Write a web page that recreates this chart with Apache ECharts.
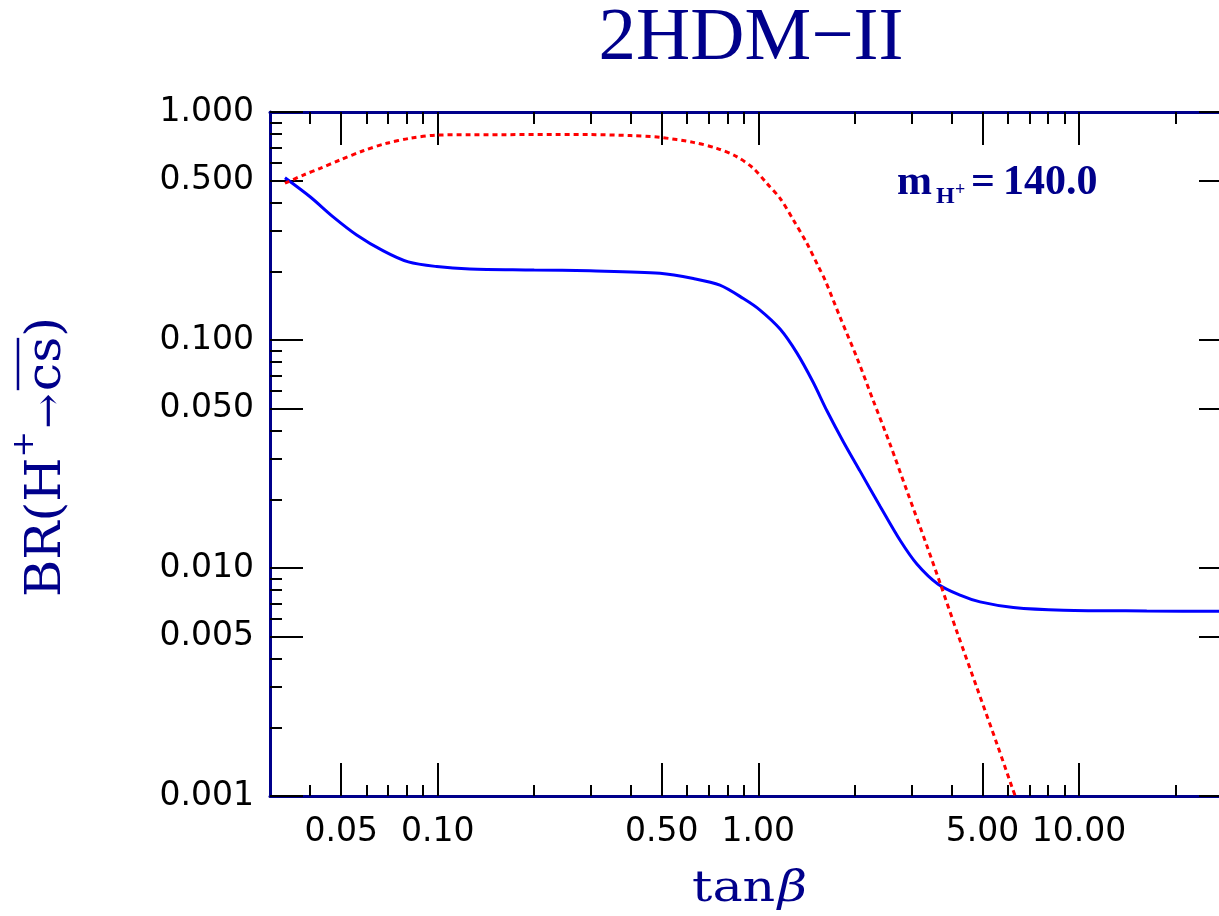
<!DOCTYPE html>
<html>
<head>
<meta charset="utf-8">
<title>2HDM-II BR(H+ -> c sbar)</title>
<script src="https://cdn.jsdelivr.net/npm/echarts@6/dist/echarts.min.js"></script>
<style>
  html, body { margin: 0; padding: 0; background: #ffffff; }
  #chart { width: 1219px; height: 916px; }
</style>
</head>
<body>
<div id="chart"></div>
<script>
// tan(beta) samples and branching ratios, solid blue curve
const tanBetaSolid = [0.0334, 0.0400, 0.0472, 0.0559, 0.0677, 0.0810, 0.0993, 0.126, 0.20, 0.2985,
  0.4935, 0.627, 0.759, 0.898, 1.012, 1.169, 1.320, 1.481, 1.638, 1.837,
  2.076, 2.397, 2.767, 3.126, 3.636, 4.257, 4.915, 6.243, 8.94, 16.27,
  27.35, 30];
const brSolid = [0.515, 0.425, 0.347, 0.289, 0.246, 0.220, 0.210, 0.205, 0.203, 0.201,
  0.196, 0.186, 0.174, 0.152, 0.1353, 0.1117, 0.0876, 0.0654, 0.0488, 0.0360,
  0.0266, 0.01867, 0.01324, 0.01039, 0.00849, 0.0076, 0.0071, 0.00671, 0.00653, 0.00648,
  0.00646, 0.00645];

// tan(beta) samples and branching ratios, dotted red curve
const tanBetaDotted = [0.0334, 0.0381, 0.0430, 0.0496, 0.0586, 0.0693, 0.0820, 0.0993, 0.126, 0.2985,
  0.40, 0.4935, 0.627, 0.742, 0.856, 0.965, 1.062, 1.169, 1.286, 1.416,
  1.539, 1.615, 1.798, 2.032, 2.279, 2.575, 2.910, 3.359, 3.688, 4.167,
  4.810, 5.553, 6.183, 6.324];
const brDotted = [0.487, 0.529, 0.566, 0.616, 0.676, 0.729, 0.767, 0.792, 0.795, 0.796,
  0.788, 0.774, 0.736, 0.693, 0.637, 0.566, 0.487, 0.418, 0.336, 0.266,
  0.210, 0.183, 0.126, 0.0833, 0.0545, 0.0349, 0.0217, 0.01246, 0.00858, 0.00523,
  0.00297, 0.001686, 0.001092, 0.001];

// axis ranges and tick marks
const xRange = [0.03, 30];
const yRange = [0.001, 1];
const xMajorTicks = [0.05, 0.1, 0.5, 1, 5, 10];
const xMinorTicks = [0.04, 0.06, 0.07, 0.08, 0.09, 0.2, 0.3, 0.4, 0.6, 0.7, 0.8, 0.9,
  2, 3, 4, 6, 7, 8, 9, 20];
const yMajorTicks = [0.001, 0.005, 0.01, 0.05, 0.1, 0.5, 1];
const yMinorTicks = [0.002, 0.003, 0.004, 0.006, 0.007, 0.008, 0.009,
  0.02, 0.03, 0.04, 0.06, 0.07, 0.08, 0.09,
  0.2, 0.3, 0.4, 0.6, 0.7, 0.8, 0.9];

const NAVY = '#00008b';
const TICK_STYLE = { color: '#000000', width: 2 };
const SERIF = 'DejaVu Serif';
const lg = Math.log10;

// Tick-only companion axes: same range as the log axis, expressed in decades
function tickAxis(position, range, values, len, labelDigits, labelMargin, showLine) {
  const ax = {
    type: 'value',
    gridIndex: 0,
    position: position,
    min: lg(range[0]),
    max: lg(range[1]),
    axisLine: showLine
      ? { show: true, onZero: false, lineStyle: { color: NAVY, width: 3 } }
      : { show: false, onZero: false },
    axisTick: { show: true, inside: true, length: len, customValues: values.map(lg), lineStyle: TICK_STYLE },
    axisLabel: { show: false },
    splitLine: { show: false },
    silent: true
  };
  if (labelDigits !== null) {
    ax.axisLabel = {
      show: true,
      customValues: values.map(lg),
      formatter: v => Math.pow(10, v).toFixed(labelDigits),
      color: '#000000',
      fontFamily: 'DejaVu Sans',
      fontSize: 33,
      margin: labelMargin
    };
  }
  return ax;
}

// Lays out a run of text pieces on one baseline, stretched to a target length
const measureCtx = document.createElement('canvas').getContext('2d');
function textWidth(str, size, style) {
  measureCtx.font = (style || 'normal') + ' ' + size + 'px "' + SERIF + '"';
  return measureCtx.measureText(str).width;
}
function baselineRun(pieces, targetLength, overlineY) {
  const children = [];
  let x = 0;
  pieces.forEach(p => {
    const w = textWidth(p.text, p.size, p.fontStyle);
    children.push({
      type: 'text', x: x, y: (p.dy || 0) - 0.297 * p.size,
      style: { text: p.text, fill: NAVY, fontFamily: SERIF, fontSize: p.size,
               fontStyle: p.fontStyle || 'normal', align: 'left', verticalAlign: 'middle' }
    });
    if (p.overline) {
      children.push({ type: 'line', shape: { x1: x + 1, y1: overlineY, x2: x + w - 1, y2: overlineY },
                      style: { stroke: NAVY, lineWidth: 2.5 } });
    }
    x += w + (p.gap || 0);
  });
  return { children: children, scale: targetLength / x };
}

const yTitle = baselineRun([
  { text: 'BR(H', size: 48 },
  { text: '+', size: 30, dy: -28, gap: 2 },
  { text: '\u2192', size: 40, gap: 2 },
  { text: 'cs', size: 48, overline: true },
  { text: ')', size: 48 }
], 280, -44);

const xTitle = baselineRun([
  { text: 'tan', size: 42, gap: 2 },
  { text: '\u03b2', size: 42, fontStyle: 'italic' }
], 115, 0);

const chart = echarts.init(document.getElementById('chart'), null, { renderer: 'canvas' });

chart.setOption({
  animation: false,
  backgroundColor: '#ffffff',
  grid: { left: 270, top: 112, width: 962, height: 684, containLabel: false, outerBoundsMode: 'none' },
  xAxis: [
    {
      type: 'log', logBase: 10, gridIndex: 0, position: 'bottom',
      min: xRange[0], max: xRange[1],
      axisLine: { show: true, onZero: false, lineStyle: { color: NAVY, width: 3 } },
      axisTick: { show: false }, axisLabel: { show: false }, splitLine: { show: false }
    },
    tickAxis('bottom', xRange, xMajorTicks, 33, 2, 20, false),
    tickAxis('bottom', xRange, xMinorTicks, 11, null, 0, false),
    tickAxis('top', xRange, xMajorTicks, 33, null, 0, true),
    tickAxis('top', xRange, xMinorTicks, 12, null, 0, false)
  ],
  yAxis: [
    {
      type: 'log', logBase: 10, gridIndex: 0, position: 'left',
      min: yRange[0], max: yRange[1],
      axisLine: { show: true, onZero: false, lineStyle: { color: NAVY, width: 3 } },
      axisTick: { show: false }, axisLabel: { show: false }, splitLine: { show: false }
    },
    tickAxis('left', yRange, yMajorTicks, 33, 3, 16, false),
    tickAxis('left', yRange, yMinorTicks, 12, null, 0, false),
    tickAxis('right', yRange, yMajorTicks, 33, null, 0, true),
    tickAxis('right', yRange, yMinorTicks, 12, null, 0, false)
  ],
  series: [
    {
      type: 'line', xAxisIndex: 0, yAxisIndex: 0,
      data: tanBetaSolid.map((x, i) => [x, brSolid[i]]),
      showSymbol: false, smooth: 0.3, clip: true,
      lineStyle: { color: '#0000ff', width: 3, type: 'solid' },
      z: 5
    },
    {
      type: 'line', xAxisIndex: 0, yAxisIndex: 0,
      data: tanBetaDotted.map((x, i) => [x, brDotted[i]]),
      showSymbol: false, smooth: 0.3, clip: true,
      lineStyle: { color: '#ff0000', width: 3, type: [5, 4] },
      z: 5
    }
  ],
  graphic: [
    {
      type: 'text', x: 751, y: 39, silent: true,
      style: { text: '2HDM\u2212II', fill: NAVY, fontFamily: 'Liberation Serif', fontSize: 75,
               align: 'center', verticalAlign: 'middle' }
    },
    // x-axis title
    {
      type: 'group', x: 692, y: 903, scaleX: xTitle.scale, silent: true,
      children: xTitle.children
    },
    // y-axis title, written along the axis
    {
      type: 'group', x: 62, y: 597, rotation: Math.PI / 2, scaleX: yTitle.scale, silent: true,
      children: yTitle.children
    },
    // charged Higgs mass note
    {
      type: 'text', x: 897, y: 183, silent: true,
      style: { text: 'm', fill: NAVY, fontFamily: 'Liberation Serif', fontWeight: 'bold', fontSize: 42,
               align: 'left', verticalAlign: 'middle' }
    },
    {
      type: 'text', x: 936, y: 197, silent: true,
      style: { text: 'H', fill: NAVY, fontFamily: 'Liberation Serif', fontWeight: 'bold', fontSize: 24,
               align: 'left', verticalAlign: 'middle' }
    },
    {
      type: 'text', x: 955, y: 190, silent: true,
      style: { text: '+', fill: NAVY, fontFamily: 'Liberation Serif', fontWeight: 'bold', fontSize: 18,
               align: 'left', verticalAlign: 'middle' }
    },
    {
      type: 'text', x: 971, y: 183, silent: true,
      style: { text: '=', fill: NAVY, fontFamily: 'Liberation Serif', fontWeight: 'bold', fontSize: 42,
               align: 'left', verticalAlign: 'middle' }
    },
    {
      type: 'text', x: 1003, y: 183, silent: true,
      style: { text: '140.0', fill: NAVY, fontFamily: 'Liberation Serif', fontWeight: 'bold', fontSize: 42,
               align: 'left', verticalAlign: 'middle' }
    }
  ]
});
</script>
</body>
</html>
